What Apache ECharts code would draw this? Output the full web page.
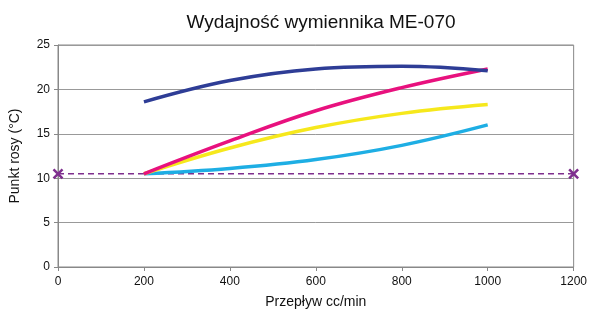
<!DOCTYPE html>
<html>
<head>
<meta charset="utf-8">
<script src="https://cdn.jsdelivr.net/npm/echarts@6/dist/echarts.min.js"></script>
<style>
  html, body { margin: 0; padding: 0; background: #fff; }
  #chart { width: 590px; height: 316px; }
</style>
</head>
<body>
<div id="chart"></div>
<script>
// przepływ (cc/min)
const flow = [200, 400, 600, 800, 1000]
const darkBlue = [18.6, 21.0, 22.3, 22.6, 22.1]
const magenta = [10.5, 14.2, 17.6, 20.2, 22.3]
const yellow = [10.5, 13.4, 15.7, 17.3, 18.3]
const cyan = [10.5, 11.1, 12.1, 13.7, 16.0]
// linia odniesienia
const refX = [0, 1200]
const refY = [10.5, 10.5]

const pairs = (xs, ys) => xs.map((x, i) => [x, ys[i]])

const curve = (data, color) => ({
  type: 'line',
  data: pairs(flow, data),
  smooth: 0.4,
  showSymbol: false,
  lineStyle: { color: color, width: 3.5 },
  z: 3
})

const chart = echarts.init(document.getElementById('chart'))
chart.setOption({
  animation: false,
  textStyle: { fontFamily: 'Liberation Sans, Arial, sans-serif' },
  title: {
    text: 'Wydajność wymiennika ME-070',
    left: 316,
    textAlign: 'center',
    top: 8,
    textStyle: { fontSize: 19, fontWeight: 'normal', color: '#111' }
  },
  grid: {
    left: 58, right: 15, top: 45, bottom: 49,
    show: true, borderColor: '#888', borderWidth: 1
  },
  xAxis: {
    type: 'value',
    min: 0, max: 1200, interval: 200,
    name: 'Przepływ cc/min',
    nameLocation: 'middle',
    nameGap: 28,
    nameTextStyle: { fontSize: 14, color: '#111' },
    axisLine: { lineStyle: { color: '#888' } },
    axisTick: { show: true, length: 4, lineStyle: { color: '#888' } },
    axisLabel: { fontSize: 12, color: '#111', margin: 9, formatter: v => String(v) },
    splitLine: { show: false }
  },
  yAxis: {
    type: 'value',
    min: 0, max: 25, interval: 5,
    name: 'Punkt rosy (°C)',
    nameLocation: 'middle',
    nameGap: 36,
    nameTextStyle: { fontSize: 14, color: '#111' },
    axisLine: { show: true, lineStyle: { color: '#888' } },
    axisTick: { show: true, length: 4, lineStyle: { color: '#888' } },
    axisLabel: { fontSize: 12, color: '#111', margin: 8 },
    splitLine: { lineStyle: { color: '#999', width: 1 } }
  },
  series: [
    curve(cyan, '#1eaee4'),
    curve(yellow, '#f6e81c'),
    curve(magenta, '#e8117e'),
    curve(darkBlue, '#2e3d96'),
    {
      type: 'line',
      data: pairs(refX, refY),
      symbol: 'path://M-1,-1L1,1M1,-1L-1,1',
      symbolSize: 9,
      itemStyle: { color: 'none', borderColor: '#7e2f8e', borderWidth: 2.5 },
      lineStyle: { color: '#7e2f8e', width: 1.5, type: [6, 4] },
      z: 2
    }
  ]
})
</script>
</body>
</html>
